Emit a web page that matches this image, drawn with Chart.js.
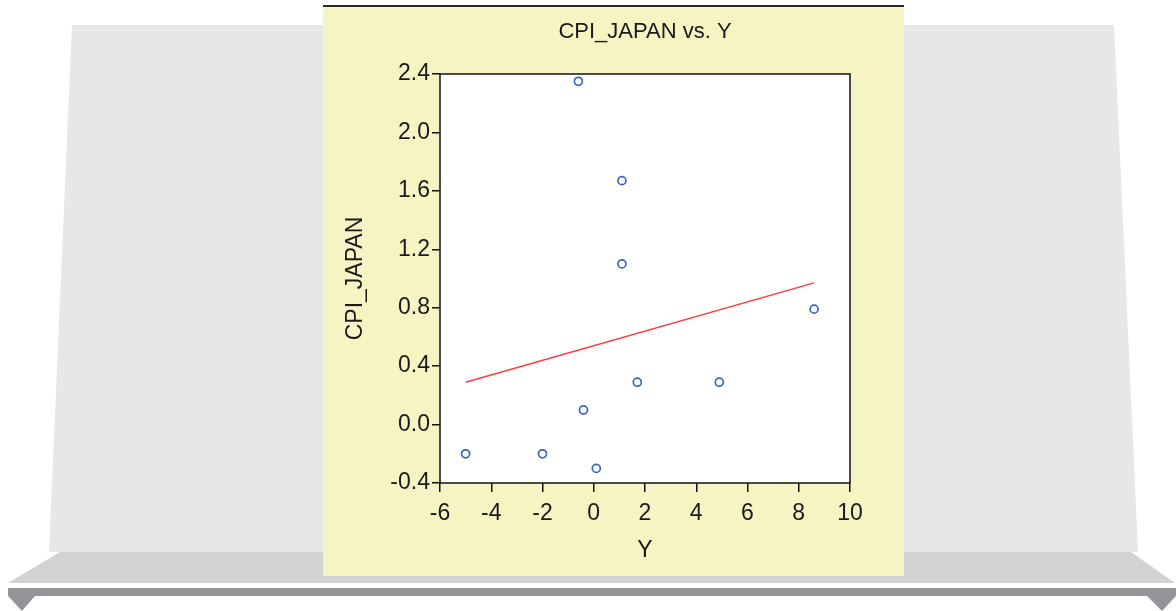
<!DOCTYPE html>
<html>
<head>
<meta charset="utf-8">
<script src="https://cdn.jsdelivr.net/npm/chart.js@4"></script>
<style>
html, body { margin: 0; padding: 0; background: #fff; }
</style>
</head>
<body>
<canvas id="myChartCpi" width="1176" height="611"></canvas>
<script>
// scatter values (x axis is Y, y axis is CPI_JAPAN)
var yValues = [-0.6, 1.1, 1.1, 8.6, 1.7, 4.9, -0.4, -5.0, -2.0, 0.1];
var cpiJapan = [2.35, 1.67, 1.10, 0.79, 0.29, 0.29, 0.10, -0.20, -0.20, -0.30];
// fitted line end points
var fitY = [-5.0, 8.6];
var fitCpi = [0.29, 0.97];
var xTicks = [-6, -4, -2, 0, 2, 4, 6, 8, 10];
var yTicks = [-0.4, 0.0, 0.4, 0.8, 1.2, 1.6, 2.0, 2.4];

var points = yValues.map(function (v, i) { return {x: v, y: cpiJapan[i]}; });
var fitLine = fitY.map(function (v, i) { return {x: v, y: fitCpi[i]}; });

function poly(c, color, pts) {
    c.fillStyle = color;
    c.beginPath();
    c.moveTo(pts[0][0], pts[0][1]);
    for (var i = 1; i < pts.length; i++) c.lineTo(pts[i][0], pts[i][1]);
    c.closePath();
    c.fill();
}

var backdrop = {
    id: 'backdrop',
    beforeDraw: function (chart) {
        var c = chart.ctx, a = chart.chartArea;
        c.save();
        poly(c, '#e6e7e8', [[72, 25], [1114, 25], [1138, 552], [49, 552]]);
        poly(c, '#d1d2d4', [[60, 552], [1131, 552], [1175, 583], [8, 583]]);
        c.fillStyle = '#939598';
        c.fillRect(8, 588, 1168, 8);
        poly(c, '#939598', [[8, 596], [35, 596], [22, 611]]);
        poly(c, '#939598', [[1147, 596], [1176, 596], [1162, 611]]);
        c.fillStyle = '#f6f4c3';
        c.fillRect(323, 6, 581, 570);
        c.fillStyle = '#2a2a22';
        c.fillRect(323, 5, 581, 2);
        c.fillStyle = '#fff';
        c.fillRect(a.left, a.top, a.right - a.left, a.bottom - a.top);
        c.restore();
    },
    beforeDatasetsDraw: function (chart) {
        var c = chart.ctx, a = chart.chartArea;
        c.save();
        c.strokeStyle = '#111';
        c.lineWidth = 1.5;
        c.strokeRect(a.left, a.top, a.right - a.left, a.bottom - a.top);
        c.restore();
    }
};

var ctx = document.getElementById('myChartCpi').getContext('2d');
var myChartCpi = new Chart(ctx, {
    type: 'scatter',
    data: {
        datasets: [{
            label: 'CPI_JAPAN',
            data: points,
            pointStyle: 'circle',
            pointRadius: 4,
            pointBorderWidth: 1.7,
            borderColor: '#3567c2',
            backgroundColor: 'rgba(255, 255, 255, 1)'
        }, {
            label: 'fit',
            data: fitLine,
            showLine: true,
            pointRadius: 0,
            borderColor: '#ff3a3a',
            borderWidth: 1.5
        }]
    },
    options: {
        responsive: false,
        animation: false,
        layout: {
            padding: {left: 330, right: 326, top: 19, bottom: 38}
        },
        plugins: {
            legend: {display: false},
            tooltip: {enabled: false},
            title: {
                display: true,
                text: 'CPI_JAPAN vs. Y',
                fullSize: false,
                color: '#1a1a1a',
                font: {family: 'Liberation Sans, Arial, sans-serif', size: 22, weight: 'normal'},
                padding: {top: 0, bottom: 28.6}
            }
        },
        scales: {
            x: {
                type: 'linear',
                min: -6,
                max: 10,
                afterBuildTicks: function (s) { s.ticks = xTicks.map(function (v) { return {value: v}; }); },
                afterFit: function (s) { s.height = 90; },
                border: {display: false},
                grid: {drawOnChartArea: false, drawTicks: true, tickLength: 9, tickColor: '#111', lineWidth: 1.5},
                ticks: {
                    color: '#1a1a1a',
                    padding: 8,
                    maxRotation: 0,
                    font: {family: 'Liberation Sans, Arial, sans-serif', size: 23},
                    callback: function (v) { return String(v); }
                },
                title: {
                    display: true,
                    text: 'Y',
                    color: '#1a1a1a',
                    font: {family: 'Liberation Sans, Arial, sans-serif', size: 23},
                    padding: {top: 0, bottom: 9}
                }
            },
            y: {
                type: 'linear',
                min: -0.4,
                max: 2.4,
                afterBuildTicks: function (s) { s.ticks = yTicks.map(function (v) { return {value: v}; }); },
                afterFit: function (s) { s.width = 110; },
                border: {display: false},
                grid: {drawOnChartArea: false, drawTicks: true, tickLength: 8, tickColor: '#111', lineWidth: 1.5},
                ticks: {
                    color: '#1a1a1a',
                    padding: 2,
                    font: {family: 'Liberation Sans, Arial, sans-serif', size: 23},
                    callback: function (v) { return Number(v).toFixed(1); }
                },
                title: {
                    display: true,
                    text: 'CPI_JAPAN',
                    color: '#1a1a1a',
                    font: {family: 'Liberation Sans, Arial, sans-serif', size: 23},
                    padding: {top: 12, bottom: 0}
                }
            }
        }
    },
    plugins: [backdrop]
});
</script>
</body>
</html>
